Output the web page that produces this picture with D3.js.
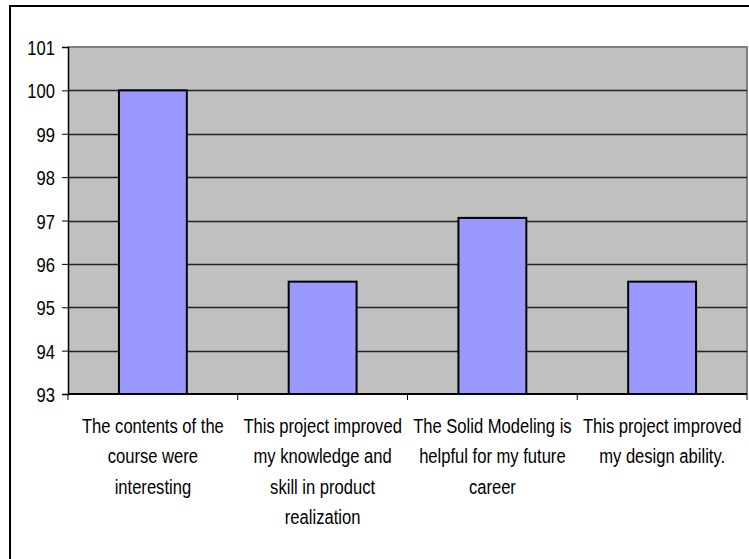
<!DOCTYPE html>
<html>
<head>
<meta charset="utf-8">
<script src="https://cdn.jsdelivr.net/npm/d3@7"></script>
<style>
  html, body { margin: 0; padding: 0; background: #fff; }
  svg { display: block; }
  text { font-family: "Liberation Sans", Arial, sans-serif; fill: #000; }
</style>
</head>
<body>
<svg id="chart" width="749" height="559"></svg>
<script>
const categories = [
  ["The contents of the", "course were", "interesting"],
  ["This project improved", "my knowledge and", "skill in product", "realization"],
  ["The Solid Modeling is", "helpful for my future", "career"],
  ["This project improved", "my design ability."]
];
const values = [100, 95.59, 97.06, 95.59];
const yTicks = [93, 94, 95, 96, 97, 98, 99, 100, 101];

const svg = d3.select("#chart");
const W = 749, H = 559;
const plot = { left: 68, top: 47, right: 747, bottom: 394 };
const SX = 0.79, FS = 21;

svg.append("rect").attr("width", W).attr("height", H).attr("fill", "#fff");
// outer chart frame
svg.append("rect").attr("x", 10).attr("y", 6).attr("width", 760).attr("height", 570)
  .attr("fill", "none").attr("stroke", "#000").attr("stroke-width", 2);

const x = d3.scaleBand().domain(d3.range(categories.length))
  .range([plot.left, plot.right]).paddingInner(0.6).paddingOuter(0.3);
const xOuter = d3.scaleBand().domain(d3.range(categories.length)).range([plot.left, plot.right]);
const y = d3.scaleLinear().domain([93, 101]).range([plot.bottom, plot.top]);

// plot area background
svg.append("rect").attr("x", plot.left).attr("y", plot.top)
  .attr("width", plot.right - plot.left).attr("height", plot.bottom - plot.top)
  .attr("fill", "#C0C0C0");
// grey border top/right
svg.append("path")
  .attr("d", `M${plot.left},${plot.top}H${plot.right}V${plot.bottom}`)
  .attr("fill", "none").attr("stroke", "#808080").attr("stroke-width", 2);

// gridlines
svg.append("g").selectAll("line").data(yTicks.filter(t => t > 93 && t < 101)).join("line")
  .attr("x1", plot.left).attr("x2", plot.right)
  .attr("y1", d => Math.round(y(d)) + 0.5).attr("y2", d => Math.round(y(d)) + 0.5)
  .attr("stroke", "#222").attr("stroke-width", 1.3);

// bars
svg.append("g").selectAll("rect").data(values).join("rect")
  .attr("x", (d, i) => x(i)).attr("width", x.bandwidth())
  .attr("y", d => y(d)).attr("height", d => plot.bottom - y(d))
  .attr("fill", "#9999FF").attr("stroke", "#000").attr("stroke-width", 2);

// y axis
const yAxis = d3.axisLeft(y).tickValues(yTicks).tickSize(6).tickFormat(d3.format("d"));
const gy = svg.append("g").attr("transform", `translate(${plot.left},0)`).call(yAxis);
gy.select(".domain").attr("stroke", "#000").attr("stroke-width", 1.5);
gy.selectAll(".tick line").attr("stroke", "#000");
gy.selectAll(".tick text").remove();
gy.selectAll(".tick").append("text")
  .attr("text-anchor", "end")
  .attr("transform", `translate(-13,7.5) scale(${SX},1)`)
  .style("font-size", FS + "px")
  .text(d => d);

// x axis
const boundaries = d3.range(categories.length + 1).map(i =>
  i < categories.length ? xOuter(i) : plot.right);
svg.append("line").attr("x1", plot.left).attr("x2", plot.right)
  .attr("y1", plot.bottom).attr("y2", plot.bottom)
  .attr("stroke", "#000").attr("stroke-width", 2);
svg.append("g").selectAll("line").data(boundaries).join("line")
  .attr("x1", d => d).attr("x2", d => d)
  .attr("y1", plot.bottom).attr("y2", plot.bottom + 6)
  .attr("stroke", "#000").attr("stroke-width", 1);

// category labels
const lab = svg.append("g");
categories.forEach((lines, i) => {
  const cx = xOuter(i) + xOuter.bandwidth() / 2;
  lines.forEach((ln, j) => {
    lab.append("text")
      .attr("text-anchor", "middle")
      .attr("transform", `translate(${cx},${433 + j * 30.4}) scale(${SX},1)`)
      .style("font-size", FS + "px")
      .text(ln);
  });
});
</script>
</body>
</html>
